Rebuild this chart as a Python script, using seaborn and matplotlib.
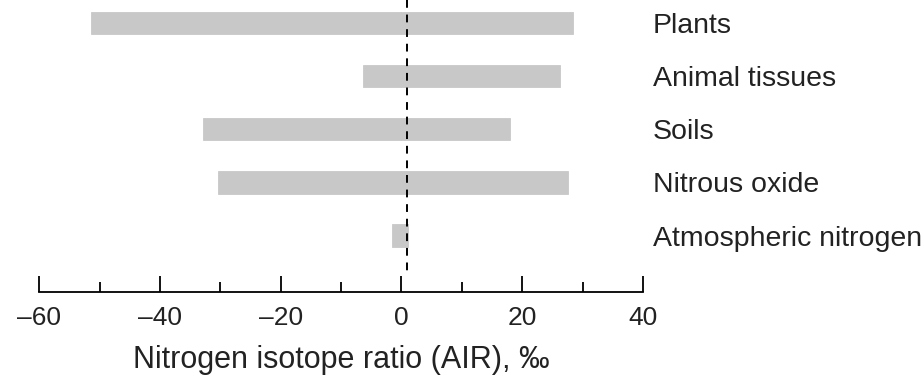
import matplotlib
matplotlib.use("Agg")
import matplotlib.pyplot as plt
import seaborn as sns
import pandas as pd
from matplotlib.ticker import MultipleLocator

categories = ["Plants", "Animal tissues", "Soils", "Nitrous oxide", "Atmospheric nitrogen"]
range_low = [-51.5, -6.3, -32.8, -30.4, -1.5]
range_high = [28.4, 26.3, 18.0, 27.6, 1.1]
air_reference = 1.0
x_ticks = [-60, -40, -20, 0, 20, 40]

sns.set_theme(style="white")
plt.rcParams['font.family'] = ['Liberation Sans', 'DejaVu Sans']

df = pd.DataFrame({"cat": categories, "low": range_low, "high": range_high})

fig = plt.figure(figsize=(9.24, 3.76), dpi=100)
ax = fig.add_axes([39.3 / 924, (376 - 292) / 376, 603.6 / 924, 292 / 376])

bar_color = "#c8c8c8"
sns.barplot(data=df, x="high", y="cat", orient="h", color=bar_color, width=0.42,
            linewidth=0.6, edgecolor=bar_color, saturation=1, ax=ax)
sns.barplot(data=df, x="low", y="cat", orient="h", color=bar_color, width=0.42,
            linewidth=0.6, edgecolor=bar_color, saturation=1, ax=ax)

ax.set_xlim(-60, 40)
ax.set_ylim(5.06, -0.43)
ax.vlines(air_reference, -0.43, 4.74, colors="black", linestyles=(0, (4, 3.5)), linewidth=1.4)

for s in ["top", "left", "right"]:
    ax.spines[s].set_visible(False)
ax.spines["bottom"].set_color("black")
ax.spines["bottom"].set_linewidth(1.3)

ax.set_xticks(x_ticks)
ax.set_xticklabels([str(t).replace("-", "\u2013") for t in x_ticks])
ax.xaxis.set_minor_locator(MultipleLocator(10))
ax.tick_params(axis="x", which="major", direction="in", length=11.5, width=1.3,
               color="black", labelsize=19, pad=10, labelcolor="#222222", bottom=True)
ax.tick_params(axis="x", which="minor", direction="in", length=7.5, width=1.3,
               color="black", bottom=True)

ax.yaxis.tick_right()
ax.tick_params(axis="y", length=0, pad=7, labelsize=20.5, labelcolor="#222222")
ax.set_ylabel("")
ax.set_xlabel("Nitrogen isotope ratio (AIR), \u2030", fontsize=22, color="#222222", labelpad=11)

fig.savefig("out.png", dpi=100)
